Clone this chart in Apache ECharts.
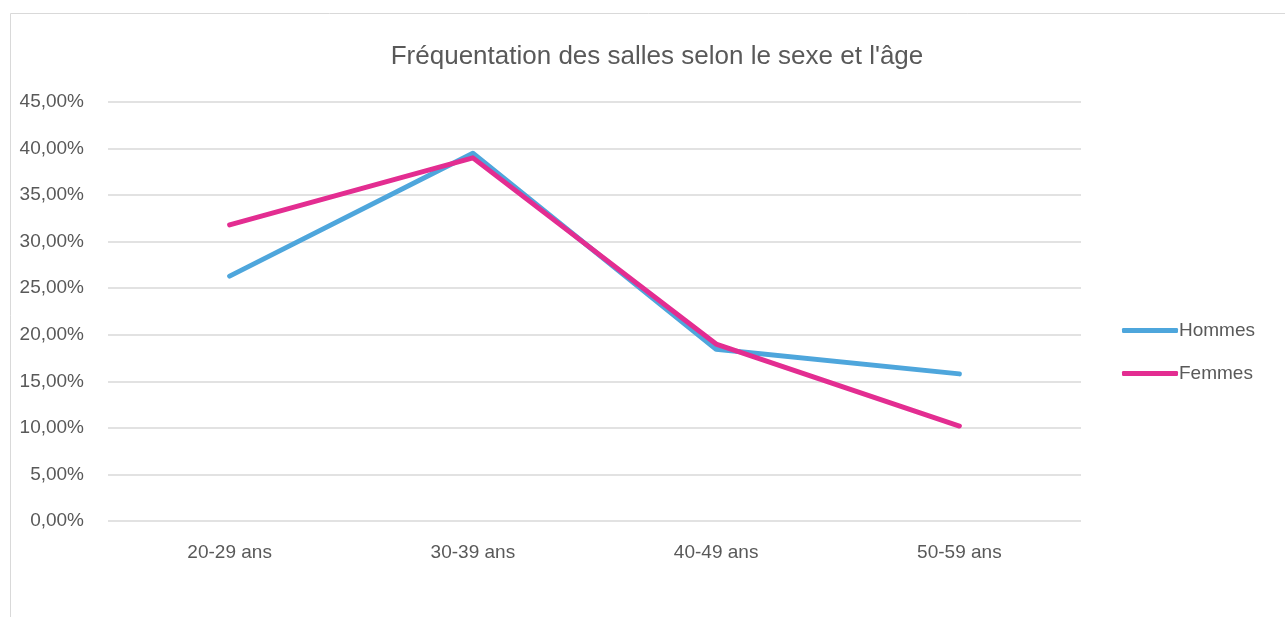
<!DOCTYPE html>
<html><head><meta charset="utf-8">
<script src="https://cdn.jsdelivr.net/npm/echarts@6/dist/echarts.min.js"></script>
<style>html,body{margin:0;padding:0;background:#fff}#c{width:1285px;height:617px}</style>
</head><body><div id="c"></div>
<script>
const categories = ['20-29 ans','30-39 ans','40-49 ans','50-59 ans'];
const hommes = [26.3, 39.5, 18.45, 15.8];
const femmes = [31.8, 39.0, 19.0, 10.2];
const yTicks = [0,5,10,15,20,25,30,35,40,45];

const chart = echarts.init(document.getElementById('c'));
const font = 'Liberation Sans';
chart.setOption({
  animation:false,
  graphic:[{type:'rect',shape:{x:10.5,y:13.5,width:1400,height:700},style:{fill:'none',stroke:'#d9d9d9',lineWidth:1}}],
  title:{text:'Fréquentation des salles selon le sexe et l\'âge',left:652,textAlign:'center',top:39,
    textStyle:{fontFamily:font,fontSize:26,fontWeight:'normal',color:'#595959'}},
  legend:{orient:'vertical',left:1117,top:316,itemWidth:56,itemHeight:5,itemGap:24,
    icon:'roundRect',
    textStyle:{fontFamily:font,fontSize:19,color:'#595959',padding:[0,0,0,-4]},
    data:['Hommes','Femmes']},
  grid:{left:108,right:204,top:102,bottom:96,containLabel:false},
  xAxis:{type:'category',data:categories,boundaryGap:true,
    axisLine:{show:false},axisTick:{show:false},
    axisLabel:{fontFamily:font,fontSize:19,color:'#595959',margin:22}},
  yAxis:{type:'value',min:yTicks[0],max:yTicks[yTicks.length-1],interval:5,
    axisLine:{show:false},axisTick:{show:false},
    splitLine:{lineStyle:{color:'#d9d9d9',width:1.5}},
    axisLabel:{fontFamily:font,fontSize:19,color:'#595959',margin:24,
      formatter:v=>v.toFixed(2).replace('.',',')+'%'}},
  series:[
    {name:'Hommes',type:'line',data:hommes,symbol:'none',lineStyle:{color:'#4ea6dc',width:5,cap:'round',join:'round'},itemStyle:{color:'#4ea6dc'}},
    {name:'Femmes',type:'line',data:femmes,symbol:'none',lineStyle:{color:'#e32d91',width:5,cap:'round',join:'round'},itemStyle:{color:'#e32d91'}}
  ]
});
</script></body></html>
